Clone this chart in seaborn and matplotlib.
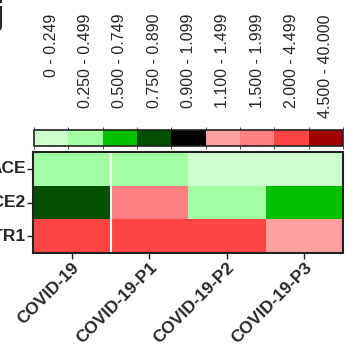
import numpy as np
import pandas as pd
import matplotlib
matplotlib.use("Agg")
import matplotlib.pyplot as plt
from matplotlib.colors import ListedColormap, BoundaryNorm
import matplotlib.transforms as mtransforms
import seaborn as sns

# data: fold-change class per cell (index into the bins below)
samples = ['COVID-19', 'COVID-19-P1', 'COVID-19-P2', 'COVID-19-P3']
genes = ['ACE', 'ACE2', 'AGTR1']
ace = [1, 1, 0, 0]
ace2 = [3, 6, 1, 2]
agtr1 = [7, 7, 7, 5]

bin_labels = ['0 - 0.249', '0.250 - 0.499', '0.500 - 0.749', '0.750 - 0.890',
              '0.900 - 1.099', '1.100 - 1.499', '1.500 - 1.999', '2.000 - 4.499',
              '4.500 - 40.000']
bin_colors = ['#CCFFCC', '#A2FFA2', '#00C000', '#005000', '#000000',
              '#FFA0A0', '#FF8080', '#FF4444', '#A00000']

df = pd.DataFrame([ace, ace2, agtr1], index=genes, columns=samples)

sns.set_style("white")
plt.rcParams['font.family'] = ['Liberation Sans', 'DejaVu Sans']

cmap = ListedColormap(bin_colors)
norm = BoundaryNorm(np.arange(-0.5, len(bin_colors) + 0.5, 1), cmap.N)

fig = plt.figure(figsize=(3.5, 3.49), dpi=100)
ax = fig.add_axes([33 / 350, 1 - 253 / 349, 310 / 350, 101 / 349])
cax = fig.add_axes([34 / 350, 1 - 146 / 349, 309 / 350, 16 / 349])

sns.heatmap(df, ax=ax, cmap=cmap, norm=norm, cbar_ax=cax,
            cbar_kws={'orientation': 'horizontal', 'ticks': range(len(bin_colors))})
ax.axvline(1, color='white', lw=1.5)

for s in ax.spines.values():
    s.set_visible(True)
    s.set_color('#222222')
    s.set_linewidth(1.5)
ax.tick_params(axis='both', length=4, width=1, color='#222222', bottom=True, left=True, pad=1)
ax.set_xticklabels(samples, rotation=45, ha='right', rotation_mode='anchor',
                   fontsize=12.5, fontweight='bold')
ax.set_yticklabels(genes, rotation=0, fontsize=12.5, fontweight='bold')
ax.set_xlabel('')
ax.set_ylabel('')

# colorbar styling
cbar = ax.collections[0].colorbar
cbar.outline.set_edgecolor('#222222')
cbar.outline.set_linewidth(1.2)
cax.xaxis.set_ticks_position('both')
cax.tick_params(axis='x', direction='in', length=3, width=1, color='#222222',
                labelbottom=False, labeltop=False)
trans = mtransforms.blended_transform_factory(cax.transData, fig.transFigure)
for i, lab in enumerate(bin_labels):
    cax.text(i, 1 - 14 / 349, lab, rotation=90, ha='center', va='top',
             fontsize=11.5, transform=trans)

fig.text(-0.017, 1.0, 'j', fontsize=24, fontweight='bold', va='top', ha='left')

fig.savefig('out.png', dpi=100)
